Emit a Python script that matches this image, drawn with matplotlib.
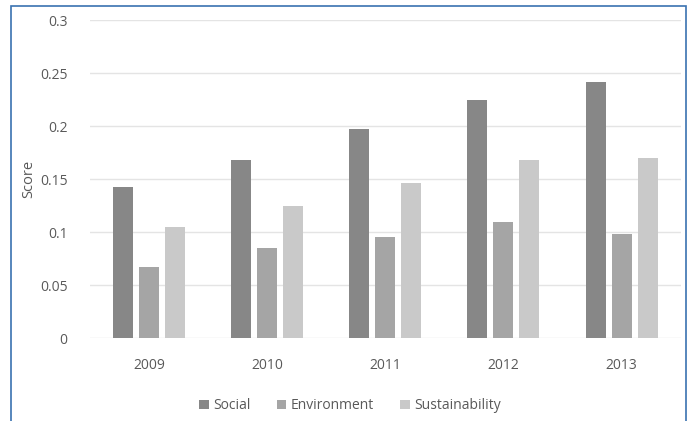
import numpy as np
import matplotlib.pyplot as plt
from matplotlib.patches import Rectangle

years = ["2009", "2010", "2011", "2012", "2013"]
social = [0.143, 0.168, 0.197, 0.225, 0.242]
environment = [0.067, 0.085, 0.095, 0.110, 0.098]
sustainability = [0.105, 0.125, 0.146, 0.168, 0.170]
y_ticks = [0, 0.05, 0.1, 0.15, 0.2, 0.25, 0.3]
y_tick_labels = ["0", "0.05", "0.1", "0.15", "0.2", "0.25", "0.3"]

plt.rcParams['font.family'] = ['Open Sans', 'DejaVu Sans']
text_color = '#595959'

fig = plt.figure(figsize=(6.96, 4.21), dpi=100)
fig.patch.set_facecolor('white')
ax = fig.add_axes([0.129, 0.197, 0.849, 0.755])

x = np.arange(len(years))
w = 0.17
off = 0.22
ax.bar(x - off, social, w, color='#878787', label='Social', zorder=3)
ax.bar(x, environment, w, color='#a5a5a5', label='Environment', zorder=3)
ax.bar(x + off, sustainability, w, color='#c9c9c9', label='Sustainability', zorder=3)

ax.set_xlim(-0.5, len(years) - 0.5)
ax.set_ylim(0, 0.3)
ax.set_yticks(y_ticks)
ax.set_yticklabels(y_tick_labels)
ax.set_xticks(x)
ax.set_xticklabels(years)
ax.tick_params(length=0, labelsize=10, colors=text_color)
ax.tick_params(axis='y', pad=16)
ax.tick_params(axis='x', pad=14)
ax.grid(axis='y', color='#e4e4e4', linewidth=1, zorder=0)
for s in ax.spines.values():
    s.set_visible(False)
ax.set_ylabel("Score", fontsize=10.5, color=text_color, labelpad=3)

ax.legend(loc='upper center', bbox_to_anchor=(0.44, -0.15), ncol=3, frameon=False,
          fontsize=10, labelcolor=text_color, handlelength=0.7, handleheight=0.7,
          handletextpad=0.3, columnspacing=1.9)

# blue frame around the chart
fig.patches.append(Rectangle((11 / 696, -0.05), 675 / 696, 1.05 - 6 / 421,
                             transform=fig.transFigure, fill=False,
                             edgecolor='#3a72b0', linewidth=1.2))

fig.savefig("out.png", dpi=100, facecolor='white')
